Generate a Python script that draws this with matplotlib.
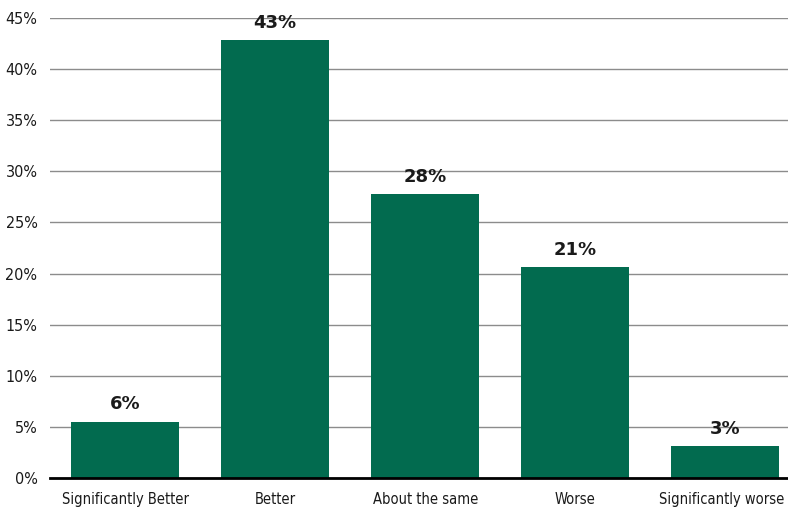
import matplotlib
matplotlib.use("Agg")
import matplotlib.pyplot as plt
import matplotlib.transforms as mtransforms
from matplotlib import font_manager
from matplotlib.font_manager import FontProperties

categories = ["Significantly Better", "Better", "About the same", "Worse", "Significantly worse"]
values = [5.5, 42.9, 27.8, 20.6, 3.1]
labels = ["6%", "43%", "28%", "21%", "3%"]
yticks = [0, 5, 10, 15, 20, 25, 30, 35, 40, 45]

cond_file = None
for f in font_manager.fontManager.ttflist:
    fn = f.fname.lower()
    if ("condensed" in fn or "narrow" in fn) and "bold" not in fn and "oblique" not in fn and "italic" not in fn:
        cond_file = f.fname
        if "dejavusanscondensed" in fn.replace("-", ""):
            break
if cond_file:
    tick_fp = FontProperties(fname=cond_file, size=11.5)
    xtick_fp = FontProperties(fname=cond_file, size=10.5)
else:
    tick_fp = FontProperties(family="DejaVu Sans", size=10.5)
    xtick_fp = FontProperties(family="DejaVu Sans", size=9.5)

fig = plt.figure(figsize=(7.88, 5.17), dpi=100)
ax = fig.add_axes([50/788, (517-477.7)/517, 1 - 50/788, (477.7-18.3)/517])

x = list(range(len(categories)))
ax.bar(x, values, width=0.72, color="#026b4f", zorder=3)
for xi, v, l in zip(x, values, labels):
    ax.text(xi, v + 0.8, l, ha="center", va="bottom", fontsize=13, fontweight="bold",
            family="DejaVu Sans", color="#1a1a1a", zorder=4)

ax.set_ylim(0, 45)
ax.set_xlim(-0.5, 4.5 - 12.5/150)
ax.set_yticks(yticks)
ax.set_yticklabels([f"{t}%" for t in yticks], fontproperties=tick_fp, color="#1a1a1a")
ax.set_xticks(x)
ax.set_xticklabels(categories, fontproperties=xtick_fp, color="#1a1a1a")
ax.yaxis.grid(True, color="#8c8c8c", linewidth=1, zorder=0)
ax.set_axisbelow(True)
for s in ["top", "right", "left"]:
    ax.spines[s].set_visible(False)
ax.spines["bottom"].set_linewidth(2)
ax.spines["bottom"].set_color("black")
ax.spines["bottom"].set_zorder(5)
ax.tick_params(axis="both", length=0)
ax.tick_params(axis="y", pad=9)
ax.tick_params(axis="x", pad=10)
last = ax.get_xticklabels()[-1]
last.set_transform(last.get_transform() + mtransforms.ScaledTranslation(-4/100, 0, fig.dpi_scale_trans))

fig.savefig("out.png", dpi=100)
